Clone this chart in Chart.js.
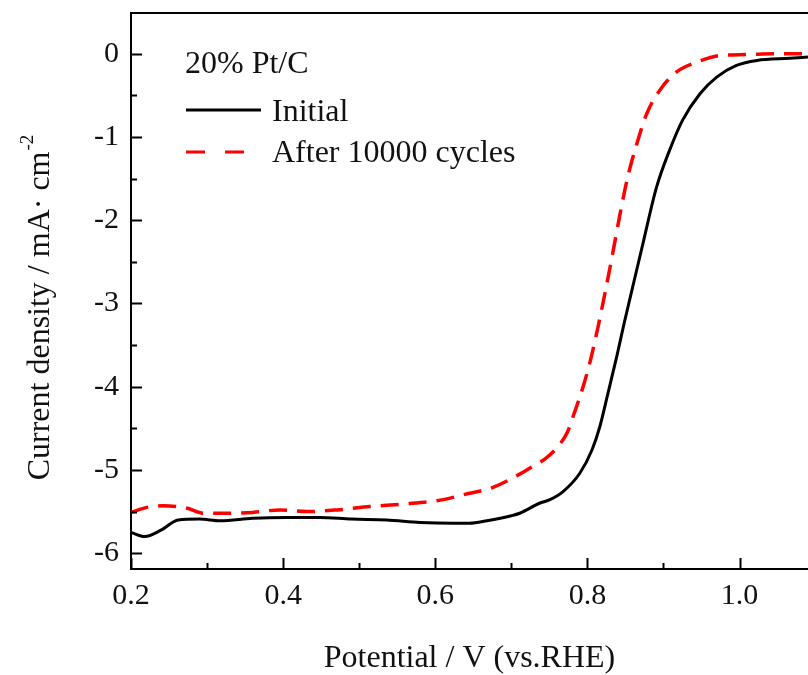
<!DOCTYPE html>
<html>
<head>
<meta charset="utf-8">
<script src="https://cdn.jsdelivr.net/npm/chart.js@4.4.1/dist/chart.umd.min.js"></script>
<style>
  html, body { margin: 0; padding: 0; background: #fff; }
  #wrap { width: 808px; height: 675px; }
</style>
</head>
<body>
<div id="wrap"><canvas id="myChart" width="808" height="675"></canvas></div>
<script>
// potential (V vs RHE) and current density (mA cm-2)
var initialX = [0.2, 0.218, 0.24, 0.262, 0.29, 0.317, 0.36, 0.405, 0.448, 0.49, 0.536, 0.58, 0.623, 0.645, 0.668, 0.70, 0.711, 0.737, 0.75, 0.768, 0.79, 0.806, 0.816, 0.827, 0.839, 0.848, 0.857, 0.873, 0.891, 0.908, 0.925, 0.948, 0.97, 0.996, 1.023, 1.066, 1.09];
var initialY = [-5.75, -5.80, -5.72, -5.60, -5.59, -5.61, -5.58, -5.57, -5.57, -5.59, -5.60, -5.63, -5.64, -5.64, -5.61, -5.55, -5.52, -5.40, -5.36, -5.26, -5.04, -4.76, -4.49, -4.08, -3.62, -3.25, -2.90, -2.28, -1.60, -1.16, -0.80, -0.48, -0.28, -0.14, -0.08, -0.055, -0.04];

var cyclesX = [0.2, 0.221, 0.242, 0.274, 0.295, 0.326, 0.36, 0.396, 0.431, 0.471, 0.514, 0.557, 0.602, 0.645, 0.676, 0.711, 0.733, 0.744, 0.762, 0.773, 0.783, 0.794, 0.803, 0.814, 0.823, 0.832, 0.843, 0.853, 0.865, 0.878, 0.895, 0.917, 0.944, 0.974, 1.009, 1.044, 1.09];
var cyclesY = [-5.51, -5.45, -5.43, -5.46, -5.52, -5.52, -5.51, -5.48, -5.50, -5.48, -5.44, -5.41, -5.37, -5.28, -5.21, -5.05, -4.93, -4.87, -4.71, -4.56, -4.31, -4.01, -3.72, -3.28, -2.88, -2.46, -1.92, -1.48, -1.08, -0.72, -0.44, -0.22, -0.10, -0.02, -0.01, 0.0, 0.0];

var seriesNames = ['Initial', 'After 10000 cycles'];
var sampleName = '20% Pt/C';
var xTitle = 'Potential / V (vs.RHE)';

var serif = '"Liberation Serif", "Times New Roman", serif';

function toPoints(xs, ys) {
    var pts = [];
    for (var i = 0; i < xs.length; i++) pts.push({x: xs[i], y: ys[i]});
    return pts;
}

function near(v, step) { // is v a whole multiple of step
    var q = v / step;
    return Math.abs(q - Math.round(q)) < 1e-6;
}

// inward tick marks, top frame line, y title with superscript, legend box
var decor = {
    id: 'decor',
    afterDraw: function (chart) {
        var ctx = chart.ctx;
        var a = chart.chartArea;
        var xs = chart.scales.x, ys = chart.scales.y;
        ctx.save();
        ctx.strokeStyle = '#000';
        ctx.lineWidth = 2;
        ctx.beginPath();
        ctx.moveTo(a.left, a.top); ctx.lineTo(a.right, a.top);
        xs.ticks.forEach(function (t) {
            var px = Math.round(xs.getPixelForValue(t.value)) + 0.5;
            var len = near(t.value, 0.2) ? 11 : 6;
            ctx.moveTo(px, a.bottom); ctx.lineTo(px, a.bottom - len);
        });
        ys.ticks.forEach(function (t) {
            var py = Math.round(ys.getPixelForValue(t.value)) + 0.5;
            var len = near(t.value, 1) ? 11 : 6;
            ctx.moveTo(a.left, py); ctx.lineTo(a.left + len, py);
        });
        ctx.stroke();

        // y axis title
        ctx.fillStyle = '#111';
        ctx.translate(49, 308);
        ctx.rotate(-Math.PI / 2);
        ctx.font = '32px ' + serif;
        var main = 'Current density / mA\u00b7 cm';
        var w1 = ctx.measureText(main).width;
        ctx.font = '19px ' + serif;
        var w2 = ctx.measureText('-2').width;
        var start = -(w1 + w2) / 2;
        ctx.font = '32px ' + serif;
        ctx.textBaseline = 'alphabetic';
        ctx.textAlign = 'left';
        ctx.fillText(main, start, 0);
        ctx.font = '19px ' + serif;
        ctx.fillText('-2', start + w1 + 1, -16);
        ctx.restore();

        // legend
        ctx.save();
        ctx.fillStyle = '#111';
        ctx.font = '32px ' + serif;
        ctx.textBaseline = 'alphabetic';
        ctx.fillText(sampleName, 185, 73);
        ctx.fillText(seriesNames[0], 272, 121);
        ctx.fillText(seriesNames[1], 272, 162);
        ctx.lineWidth = 3;
        ctx.strokeStyle = '#000';
        ctx.beginPath(); ctx.moveTo(186, 110); ctx.lineTo(261, 110); ctx.stroke();
        ctx.strokeStyle = '#ff0000';
        ctx.setLineDash([19, 20]);
        ctx.beginPath(); ctx.moveTo(186, 152); ctx.lineTo(244, 152); ctx.stroke();
        ctx.restore();
    }
};

var ctx = document.getElementById('myChart');
var myChart = new Chart(ctx, {
    type: 'scatter',
    data: {
        datasets: [{
            label: seriesNames[0],
            data: toPoints(initialX, initialY),
            showLine: true,
            borderColor: '#000',
            borderWidth: 3,
            pointRadius: 0,
            cubicInterpolationMode: 'monotone'
        }, {
            label: seriesNames[1],
            data: toPoints(cyclesX, cyclesY),
            showLine: true,
            borderColor: '#ff0000',
            borderWidth: 3.5,
            borderDash: [18, 10],
            pointRadius: 0,
            cubicInterpolationMode: 'monotone'
        }]
    },
    options: {
        responsive: false,
        animation: false,
        layout: { padding: { top: 13, left: 0, right: 0, bottom: -7 } },
        plugins: { legend: { display: false }, tooltip: { enabled: false } },
        scales: {
            x: {
                type: 'linear',
                min: 0.2,
                max: 1.09,
                afterFit: function (s) { s.height = 113; s.paddingLeft = 0; s.paddingRight = 0; },
                grid: { drawOnChartArea: false, drawTicks: false },
                border: { color: '#000', width: 2 },
                title: {
                    display: true,
                    text: xTitle,
                    color: '#111',
                    font: { family: serif, size: 32 },
                    padding: { top: 30 }
                },
                ticks: {
                    stepSize: 0.1,
                    includeBounds: false,
                    autoSkip: false,
                    maxRotation: 0,
                    padding: 9,
                    color: '#111',
                    font: { family: serif, size: 30 },
                    callback: function (v) { return near(v, 0.2) ? v.toFixed(1) : ''; }
                }
            },
            y: {
                min: -6.19,
                max: 0.49,
                afterFit: function (s) { s.width = 131; s.paddingTop = 0; s.paddingBottom = 0; },
                grid: { drawOnChartArea: false, drawTicks: false },
                border: { color: '#000', width: 2 },
                ticks: {
                    stepSize: 0.5,
                    includeBounds: false,
                    autoSkip: false,
                    padding: 12,
                    color: '#111',
                    font: { family: serif, size: 30 },
                    callback: function (v) { return near(v, 1) ? String(Math.round(v)) : ''; }
                }
            }
        }
    },
    plugins: [decor]
});
</script>
</body>
</html>
